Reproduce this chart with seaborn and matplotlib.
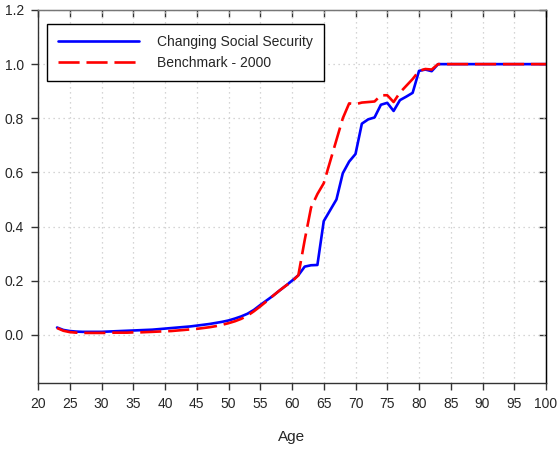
import matplotlib
matplotlib.use("Agg")
import matplotlib.pyplot as plt
import seaborn as sns
import pandas as pd
import numpy as np

ages = list(range(23, 101))
changing_ss = [0.027, 0.018, 0.014, 0.012, 0.011, 0.011, 0.011, 0.011, 0.012, 0.013,
               0.014, 0.015, 0.016, 0.017, 0.018, 0.019, 0.021, 0.023, 0.025, 0.027,
               0.029, 0.031, 0.034, 0.037, 0.040, 0.044, 0.048, 0.053, 0.060, 0.068,
               0.078, 0.092, 0.110, 0.127, 0.144, 0.163, 0.181, 0.200, 0.220, 0.252,
               0.257, 0.258, 0.420, 0.460, 0.500, 0.597, 0.640, 0.668, 0.780, 0.796,
               0.803, 0.850, 0.857, 0.827, 0.867, 0.880, 0.894, 0.975, 0.980, 0.974,
               1.0, 1.0, 1.0, 1.0, 1.0, 1.0, 1.0, 1.0, 1.0, 1.0,
               1.0, 1.0, 1.0, 1.0, 1.0, 1.0, 1.0, 1.0]
benchmark_2000 = [0.025, 0.015, 0.010, 0.008, 0.007, 0.007, 0.007, 0.007, 0.007, 0.008,
                  0.008, 0.008, 0.009, 0.009, 0.010, 0.011, 0.012, 0.013, 0.014, 0.016,
                  0.018, 0.020, 0.022, 0.025, 0.028, 0.032, 0.037, 0.043, 0.050, 0.059,
                  0.071, 0.087, 0.105, 0.124, 0.144, 0.163, 0.181, 0.197, 0.220, 0.350,
                  0.470, 0.520, 0.560, 0.640, 0.720, 0.800, 0.855, 0.852, 0.858, 0.860,
                  0.862, 0.885, 0.885, 0.860, 0.895, 0.920, 0.945, 0.975, 0.982, 0.980,
                  1.0, 1.0, 1.0, 1.0, 1.0, 1.0, 1.0, 1.0, 1.0, 1.0,
                  1.0, 1.0, 1.0, 1.0, 1.0, 1.0, 1.0, 1.0]
series_names = ["Changing Social Security", "Benchmark - 2000"]
x_ticks = list(range(20, 101, 5))
y_ticks = [0.0, 0.2, 0.4, 0.6, 0.8, 1.0, 1.2]

df = pd.DataFrame({
    "Age": ages * 2,
    "value": changing_ss + benchmark_2000,
    "series": [series_names[0]] * len(ages) + [series_names[1]] * len(ages),
})

sns.set_style("white")
plt.rcParams["font.family"] = ["Liberation Sans", "DejaVu Sans"]

fig = plt.figure(figsize=(5.57, 4.49), dpi=100)
ax = fig.add_axes([38 / 557, 1 - 383 / 449, 508 / 557, 373 / 449])

sns.lineplot(data=df, x="Age", y="value", hue="series", style="series",
             palette={series_names[0]: "#0000ff", series_names[1]: "#ff0000"},
             dashes={series_names[0]: "", series_names[1]: (8, 2.6)},
             linewidth=1.9, ax=ax, legend=True)

ax.set_xlim(20, 100)
ax.set_ylim(-0.178, 1.2)
ax.set_xticks(x_ticks)
ax.set_yticks(y_ticks)
ax.set_yticklabels([f"{v:.1f}" for v in y_ticks])
ax.set_xlabel("Age", fontsize=11, labelpad=14)
ax.set_ylabel("")
ax.grid(True, linestyle=(0, (1, 3)), color="#c8c8c8", linewidth=0.9)
ax.tick_params(axis="both", labelsize=10, length=5, width=1, color="#333333", pad=5)
ax.tick_params(axis="x", which="major", bottom=True, top=False, direction="out")
ax.tick_params(axis="y", which="major", left=True, right=False, direction="out")
# inward ticks on top and right edges
sec_x = ax.secondary_xaxis("top")
sec_x.set_xticks(x_ticks)
sec_x.tick_params(axis="x", direction="in", length=5, width=1, color="#333333", labeltop=False)
sec_x.spines["top"].set_color("#777777")
sec_y = ax.secondary_yaxis("right")
sec_y.set_yticks(y_ticks)
sec_y.tick_params(axis="y", direction="in", length=5, width=1, color="#333333", labelright=False)
sec_y.spines["right"].set_color("#000000")

for name, sp in ax.spines.items():
    sp.set_visible(True)
    sp.set_linewidth(1)
ax.spines["left"].set_color("#333333")
ax.spines["bottom"].set_color("#333333")
ax.spines["top"].set_color("#777777")
ax.spines["right"].set_color("#000000")

leg = ax.legend(loc="upper left", bbox_to_anchor=(0.018, 0.962), borderaxespad=0,
                fontsize=10, handlelength=5.8, handletextpad=1.3, labelspacing=0.45,
                borderpad=0.8, frameon=True, fancybox=False, framealpha=1)
leg.get_frame().set_edgecolor("#000000")
leg.get_frame().set_linewidth(1)

fig.savefig("out.png", dpi=100)
